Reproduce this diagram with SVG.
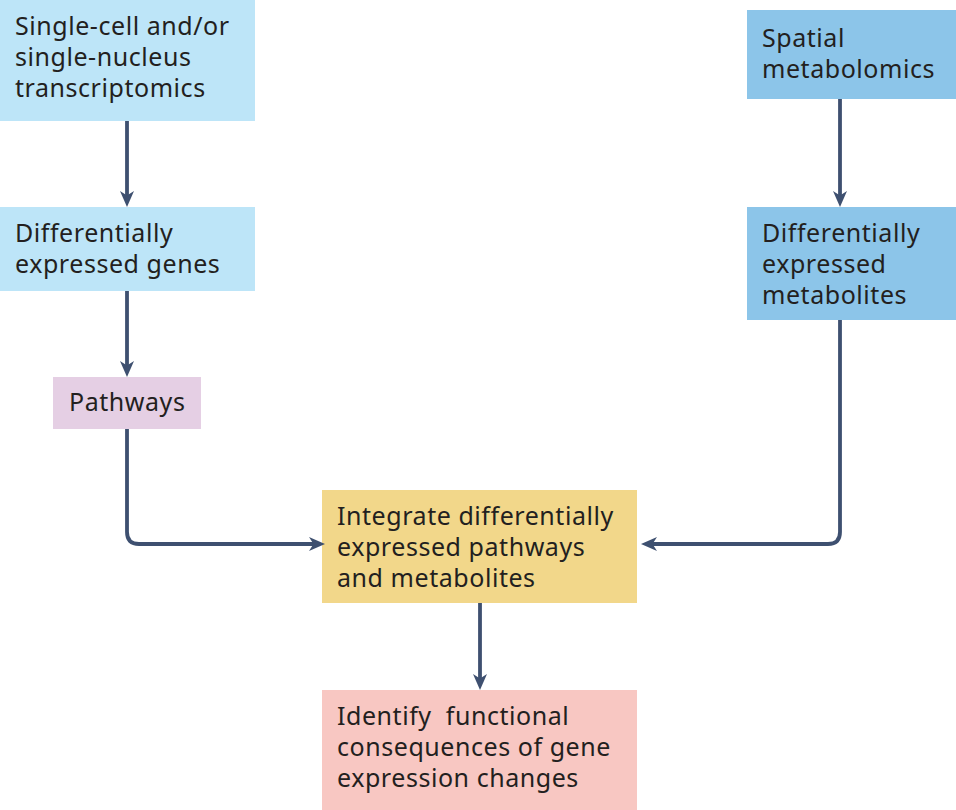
<svg xmlns="http://www.w3.org/2000/svg" width="956" height="810" viewBox="0 0 956 810">
<style>
text{font-family:"Noto Sans","Open Sans","Liberation Sans",sans-serif;font-size:25px;fill:#231f20;letter-spacing:0.55px}
.c{fill:none;stroke:#3e5070;stroke-width:3.8}
</style>
<defs>
<marker id="ah" markerUnits="userSpaceOnUse" markerWidth="16" markerHeight="15" viewBox="0 0 16 14" refX="11" refY="7" orient="auto">
<path d="M0,0 L16,7 L0,14 L4.5,7 Z" fill="#3e5070"/>
</marker>
</defs>
<rect width="956" height="810" fill="#ffffff"/>
<g id="n1"><rect x="0" y="0" width="255" height="121" fill="#bde5f8"/>
<text x="15" y="35">Single-cell and/or</text><text x="15" y="66">single-nucleus</text><text x="15" y="97">transcriptomics</text></g>
<g id="n2"><rect x="0" y="207" width="255" height="84" fill="#bde5f8"/>
<text x="15" y="242">Differentially</text><text x="15" y="273">expressed genes</text></g>
<g id="n3"><rect x="53" y="377" width="148" height="52" fill="#e5cfe4"/>
<text x="69" y="411">Pathways</text></g>
<g id="n4"><rect x="747" y="10" width="209" height="89" fill="#8cc5e9"/>
<text x="762" y="47">Spatial</text><text x="762" y="78">metabolomics</text></g>
<g id="n5"><rect x="747" y="207" width="209" height="113" fill="#8cc5e9"/>
<text x="762" y="242">Differentially</text><text x="762" y="273">expressed</text><text x="762" y="304">metabolites</text></g>
<g id="n6"><rect x="322" y="490" width="315" height="113" fill="#f2d78a"/>
<text x="337" y="525">Integrate differentially</text><text x="337" y="556">expressed pathways</text><text x="337" y="587">and metabolites</text></g>
<g id="n7"><rect x="322" y="690" width="315" height="120" fill="#f8c7c2"/>
<text x="337" y="725" xml:space="preserve">Identify  functional</text><text x="337" y="756">consequences of gene</text><text x="337" y="787">expression changes</text></g>
<g id="connectors">
<path class="c" d="M127,121 V202" marker-end="url(#ah)"/>
<path class="c" d="M127,291 V372" marker-end="url(#ah)"/>
<path class="c" d="M127,429 V532 Q127,544 139,544 H320" marker-end="url(#ah)"/>
<path class="c" d="M840,99 V202" marker-end="url(#ah)"/>
<path class="c" d="M840,320 V532 Q840,544 828,544 H646" marker-end="url(#ah)"/>
<path class="c" d="M480,603 V685" marker-end="url(#ah)"/>
</g>
</svg>
